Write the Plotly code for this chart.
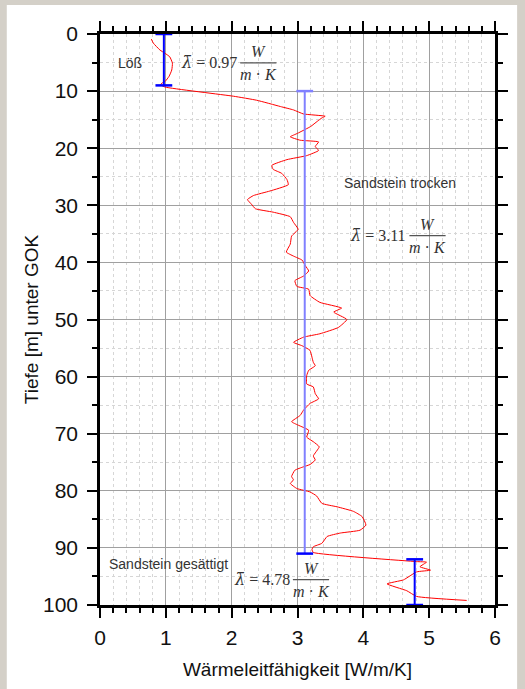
import plotly.graph_objects as go

# ---- data ----
depth = [0.9, 1.6, 2.8, 3.4, 4.0, 5.1, 6.3, 7.4, 8.3, 8.6, 8.9, 9.3,
         10.9, 11.6, 12.7, 13.3, 14.0, 14.4, 14.7, 15.3, 16.2, 17.4, 18.0, 18.6,
         18.9, 19.7, 20.4, 21.3, 22.0, 23.0, 23.7, 24.4, 25.5, 26.4, 27.5, 28.3,
         29.0, 29.8, 30.6, 31.2, 32.0, 33.0, 34.2, 35.4, 36.8, 38.2, 38.9, 39.6,
         40.6, 41.5, 42.4, 43.2, 44.2, 44.7, 45.8, 47.0, 48.0, 48.7, 50.0, 51.4,
         52.5, 53.1, 54.0, 54.6, 55.4, 56.6, 57.5, 58.1, 58.9, 59.8, 61.3, 61.8,
         63.0, 63.9, 64.7, 65.9, 66.8, 67.9, 68.5, 69.4, 70.6, 71.4, 72.3, 73.9,
         74.6, 75.4, 75.8, 76.4, 77.5, 78.1, 78.7, 79.6, 80.2, 80.9, 82.2, 82.8,
         83.6, 84.5, 86.0, 86.9, 87.4, 88.0, 89.2, 89.8, 90.3, 90.8, 92.4, 92.5,
         93.3, 93.9, 94.2, 95.6, 96.3, 97.5, 98.5, 99.2]
conductivity = [0.78, 0.81, 0.91, 0.99, 1.06, 1.10, 1.09, 1.05, 0.99, 0.94, 0.92, 0.99,
                2.03, 2.38, 2.74, 2.94, 3.09, 3.42, 3.37, 3.30, 3.20, 3.00, 2.89, 3.04,
                3.32, 3.27, 3.32, 3.14, 2.84, 2.61, 2.63, 2.76, 2.84, 2.86, 2.58, 2.33,
                2.24, 2.30, 2.36, 2.63, 2.89, 2.94, 3.01, 2.91, 2.89, 2.83, 2.94, 3.07,
                3.12, 3.17, 3.09, 2.96, 2.99, 3.17, 3.19, 3.34, 3.67, 3.55, 3.75, 3.62,
                3.34, 3.09, 2.94, 3.07, 3.19, 3.22, 3.24, 3.27, 3.17, 3.14, 3.14, 3.24,
                3.27, 3.32, 3.19, 3.09, 3.04, 2.91, 3.01, 3.17, 3.14, 3.24, 3.33, 3.24,
                3.27, 3.19, 3.09, 2.96, 2.91, 2.94, 2.89, 2.99, 3.19, 3.29, 3.37, 3.60,
                3.85, 3.98, 4.04, 3.95, 3.65, 3.45, 3.37, 3.24, 3.22, 3.24, 4.81, 4.96,
                4.86, 5.02, 4.81, 4.61, 4.36, 4.66, 4.81, 5.57]

layer_names = ["Löß", "Sandstein trocken", "Sandstein gesättigt"]
layer_mean = [0.97, 3.11, 4.78]
layer_top = [0, 10, 92]
layer_bottom = [9, 91, 100]
layer_colors = ["#0000ff", "#8080ff", "#0000ff"]
cap_colors = [["#0000ff", "#0000ff"], ["#8080ff", "#0000ff"], ["#0000ff", "#0000ff"]]

x_ticks = [0, 1, 2, 3, 4, 5, 6]
y_ticks = [0, 10, 20, 30, 40, 50, 60, 70, 80, 90, 100]

# ---- figure ----
fig = go.Figure()

fig.add_trace(go.Scatter(x=conductivity, y=depth, mode="lines",
                         line=dict(color="#ff0000", width=1, shape="spline", smoothing=0.4),
                         showlegend=False, hoverinfo="skip"))

for i in range(3):
    fig.add_trace(go.Scatter(
        x=[layer_mean[i], layer_mean[i]], y=[layer_top[i], layer_bottom[i]],
        mode="lines+markers", showlegend=False, hoverinfo="skip",
        line=dict(color=layer_colors[i], width=2),
        marker=dict(symbol="line-ew", size=12,
                    line=dict(width=2.5, color=cap_colors[i]))))

grid_major = "#a0a0a0"
grid_minor = "#d6d6d6"
tickfont = dict(family="Liberation Sans, Arial, sans-serif", size=21, color="#111")
titlefont = dict(family="Liberation Sans, Arial, sans-serif", size=19, color="#111")

fig.update_xaxes(range=[0, 6], tickvals=x_ticks, ticks="outside", ticklen=10,
                 tickwidth=2, tickcolor="#000", showline=True, linewidth=2.5,
                 linecolor="#000", mirror="ticks", showgrid=True,
                 gridcolor=grid_major, gridwidth=1, zeroline=False,
                 tickfont=tickfont, ticklabelstandoff=2,
                 title=dict(text="Wärmeleitfähigkeit [W/m/K]", font=titlefont, standoff=15),
                 minor=dict(dtick=0.2, ticks="outside", ticklen=5, tickwidth=1.5,
                            tickcolor="#000", showgrid=True, gridcolor=grid_minor,
                            griddash="dot", gridwidth=1))
fig.update_yaxes(range=[100, 0], tickvals=y_ticks, ticks="outside", ticklen=10,
                 tickwidth=2, tickcolor="#000", showline=True, linewidth=2.5,
                 linecolor="#000", mirror="ticks", showgrid=True,
                 gridcolor=grid_major, gridwidth=1, zeroline=False,
                 tickfont=tickfont, ticklabelstandoff=5,
                 title=dict(text="Tiefe [m] unter GOK", font=titlefont, standoff=0),
                 minor=dict(dtick=5, ticks="outside", ticklen=5, tickwidth=1.5,
                            tickcolor="#000", showgrid=True, gridcolor=grid_minor,
                            griddash="dot", gridwidth=1))

# white panel on grey window background
fig.add_shape(type="rect", xref="paper", yref="paper", x0=-0.236, x1=1.056,
              y0=-0.2, y1=1.0506, fillcolor="white", line=dict(width=0), layer="below")

label_font = dict(family="Liberation Sans, Arial, sans-serif", size=14, color="#333")
serif = dict(family="Liberation Serif, Times New Roman, serif", size=16, color="#333")

# layer labels
label_pos = [(0.456, 5.0, "center"), (4.56, 26.1, "center"), (0.106, 92.8, "left")]
for (lx, ly, anc), name in zip(label_pos, layer_names):
    fig.add_annotation(x=lx, y=ly, text=name, showarrow=False, font=label_font,
                       xanchor=anc, yanchor="middle")

# mean-value formulas: (right end of "λ = v", y of fraction bar)
formula_pos = [(2.13, 5.05), (4.7, 35.3), (2.93, 95.55)]
bar_len = 0.55
lam = '<span style="font-family:DejaVu Serif"><i>λ̄</i></span>'
for (fx, fy), v in zip(formula_pos, layer_mean):
    fig.add_annotation(x=fx, y=fy, text=f"{lam} = {v:.2f}", showarrow=False,
                       font=serif, xanchor="right", yanchor="middle", xshift=-1)
    fig.add_shape(type="line", x0=fx, x1=fx + bar_len, y0=fy, y1=fy,
                  line=dict(color="#555", width=1.2))
    fig.add_annotation(x=fx + bar_len / 2, y=fy, text="<i>W</i>", showarrow=False,
                       font=serif, xanchor="center", yanchor="bottom", yshift=1)
    fig.add_annotation(x=fx + bar_len / 2, y=fy, text="<i>m</i> · <i>K</i>",
                       showarrow=False, font=serif, xanchor="center", yanchor="top",
                       yshift=-1)

fig.update_layout(width=525, height=689, margin=dict(l=100, r=30, t=34, b=82),
                  paper_bgcolor="#d4d0c8", plot_bgcolor="white", showlegend=False)

fig.write_html("out.html")
